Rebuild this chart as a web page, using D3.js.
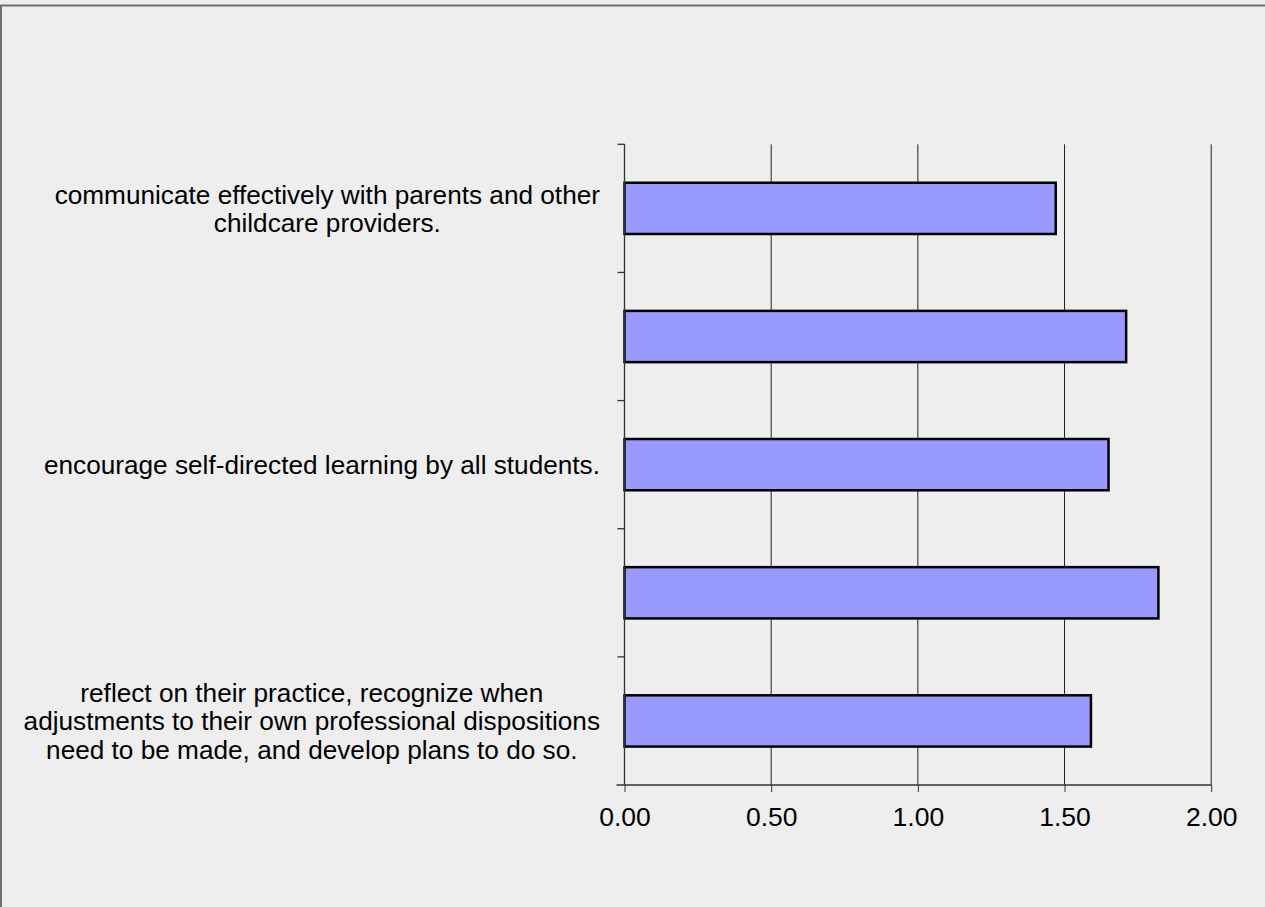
<!DOCTYPE html>
<html lang="en">
<head>
    <meta charset="UTF-8">
    <title>Chart</title>
    <script src="https://cdn.jsdelivr.net/npm/d3@7"></script>
    <style>
        html, body { margin: 0; padding: 0; background: #eeeeee; }
        svg { display: block; }
        text { font-family: "Liberation Sans", Arial, sans-serif; fill: #000; }
    </style>
</head>
<body>
    <svg id="chart" width="1265" height="907"></svg>
    <script>
        // categories (top to bottom), two of them have no label shown
        var categories = [
            "communicate effectively with parents and other\nchildcare providers.",
            "",
            "encourage self-directed learning by all students.",
            "",
            "reflect on their practice, recognize when\nadjustments to their own professional dispositions\nneed to be made, and develop plans to do so."
        ];
        var values = [1.47, 1.71, 1.65, 1.82, 1.59];
        var xTicks = [0, 0.5, 1.0, 1.5, 2.0];

        var svg = d3.select('#chart');

        // outer frame (left and top edges visible)
        svg.append('rect')
            .attr('x', 1).attr('y', 5.5)
            .attr('width', 1400).attr('height', 1000)
            .attr('fill', '#eeeeee')
            .attr('stroke', '#6f6f6f').attr('stroke-width', 2);

        var plotL = 624.5, plotR = 1211.2, plotT = 144.3, plotB = 785;

        var x = d3.scaleLinear().domain([0, 2]).range([plotL, plotR]);
        var y = d3.scaleBand().domain(d3.range(categories.length))
            .range([plotT, plotB]).paddingInner(0.6).paddingOuter(0.3);
        var step = y.step();

        // vertical gridlines
        svg.append('g').selectAll('line').data(xTicks.slice(1)).join('line')
            .attr('x1', d => x(d)).attr('x2', d => x(d))
            .attr('y1', plotT).attr('y2', plotB)
            .attr('stroke', '#222').attr('stroke-width', 1);

        // bars
        svg.append('g').selectAll('rect').data(values).join('rect')
            .attr('x', x(0))
            .attr('y', (d, i) => y(i))
            .attr('width', d => x(d) - x(0))
            .attr('height', y.bandwidth())
            .attr('fill', '#9999ff')
            .attr('stroke', '#000').attr('stroke-width', 2.5);

        // x axis
        var xAxis = d3.axisBottom(x).tickValues(xTicks).tickSize(7)
            .tickFormat(d3.format('.2f'));
        var gx = svg.append('g').attr('transform', 'translate(0,' + plotB + ')').call(xAxis);
        gx.select('.domain').remove();
        gx.append('line').attr('x1', plotL - 8).attr('x2', plotR)
            .attr('stroke', '#333').attr('stroke-width', 1.3);
        gx.selectAll('.tick line').attr('stroke', '#333');
        gx.selectAll('.tick text')
            .attr('y', 22)
            .style('font-size', '26.5px')
            .style('font-family', '"Liberation Sans", Arial, sans-serif')
            .attr('fill', '#000');

        // y axis line and ticks at band boundaries
        var gy = svg.append('g');
        gy.append('line').attr('x1', plotL).attr('x2', plotL)
            .attr('y1', plotT).attr('y2', plotB)
            .attr('stroke', '#333').attr('stroke-width', 1.3);
        gy.selectAll('line.tk').data(d3.range(categories.length)).join('line')
            .attr('class', 'tk')
            .attr('x1', plotL - 7).attr('x2', plotL)
            .attr('y1', d => plotT + d * step).attr('y2', d => plotT + d * step)
            .attr('stroke', '#333').attr('stroke-width', 1.3);

        // category labels, centred block with right edge near the axis
        var fs = 26.2, lh = 28.4, labelRight = 600;
        categories.forEach(function (c, i) {
            if (!c) return;
            var lines = c.split('\n');
            var cy = y(i) + y.bandwidth() / 2;
            var t = svg.append('text').attr('text-anchor', 'middle').style('font-size', fs + 'px');
            var spans = lines.map(function (ln, j) {
                return t.append('tspan')
                    .attr('y', cy + (j - (lines.length - 1) / 2) * lh + 0.36 * fs)
                    .text(ln);
            });
            var w = d3.max(spans, s => s.node().getComputedTextLength());
            spans.forEach(s => s.attr('x', labelRight - w / 2));
        });
    </script>
</body>
</html>
